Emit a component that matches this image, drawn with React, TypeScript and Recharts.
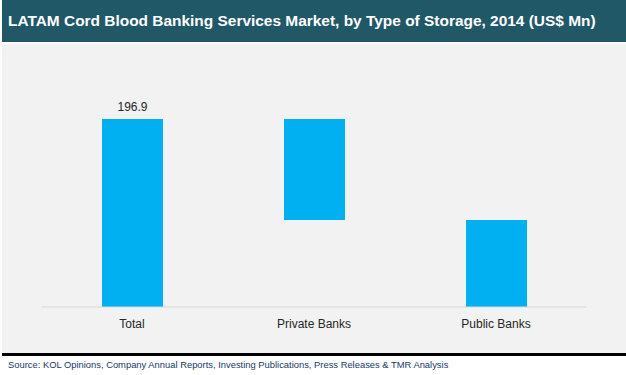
import { BarChart, Bar, XAxis, YAxis, Cell, LabelList } from 'recharts'

const categories = ['Total', 'Private Banks', 'Public Banks']
const values = [196.9, 105.8, 91.1]
const isTotal = [true, false, false]

// waterfall: each segment floats on an invisible base
const data = categories.map((name, i) => {
  const base = isTotal[i] ? 0 : values.slice(i + 1).reduce((a, b) => a + b, 0)
  return { name, base, value: values[i], label: isTotal[i] ? values[i].toFixed(1) : null }
})

const font = '"Liberation Sans", Arial, sans-serif'

export default function App() {
  return (
    <div style={{ position: 'fixed', top: 0, left: 0, width: 626, height: 375, background: '#fff', fontFamily: font }}>
      <div style={{ position: 'absolute', left: 2, top: 0, width: 624, height: 42, background: '#215868' }} />
      <div
        style={{
          position: 'absolute',
          left: 8,
          top: 12,
          color: '#fff',
          fontWeight: 'bold',
          fontSize: 15.45,
          whiteSpace: 'nowrap',
        }}
      >
        LATAM Cord Blood Banking Services Market, by Type of Storage, 2014 (US$ Mn)
      </div>
      <div style={{ position: 'absolute', left: 2, top: 44, width: 624, height: 309, background: '#f2f2f2' }} />
      <div style={{ position: 'absolute', left: 2, top: 353, width: 624, height: 3, background: '#000' }} />
      <div style={{ position: 'absolute', left: 8, top: 359, fontSize: 9.4, color: '#203864', whiteSpace: 'nowrap' }}>
        Source: KOL Opinions, Company Annual Reports, Investing Publications, Press Releases &amp; TMR Analysis
      </div>
      <div style={{ position: 'absolute', left: 0, top: 0 }}>
        <BarChart width={626} height={375} data={data} margin={{ top: 116, right: 39, bottom: 38, left: 41 }}>
          <XAxis
            dataKey="name"
            axisLine={{ stroke: '#d9d9d9' }}
            tickLine={false}
            tickMargin={6}
            tick={{ fontSize: 12, fill: '#262626', fontFamily: font }}
            height={30}
          />
          <YAxis hide domain={[0, 200]} />
          <Bar dataKey="base" stackId="w" fill="transparent" barSize={61} isAnimationActive={false} />
          <Bar dataKey="value" stackId="w" barSize={61} isAnimationActive={false}>
            {data.map((d) => (
              <Cell key={d.name} fill="#00b0f0" />
            ))}
            <LabelList dataKey="label" position="top" offset={8} fill="#262626" fontSize={12} fontFamily={font} />
          </Bar>
        </BarChart>
      </div>
    </div>
  )
}
